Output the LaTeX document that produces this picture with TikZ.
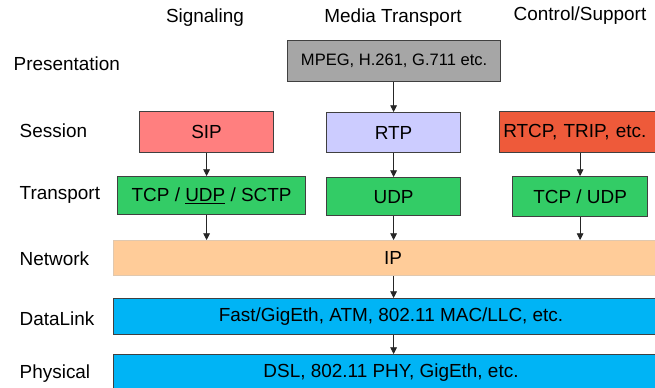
\documentclass[tikz,border=0pt]{standalone}
\usepackage{fontspec}
\setmainfont{Liberation Sans}
\usetikzlibrary{arrows.meta}
\definecolor{presgray}{HTML}{A6A6A6}
\definecolor{sipred}{HTML}{FF7F7F}
\definecolor{rtpblue}{HTML}{CCCCFF}
\definecolor{rtcporange}{HTML}{EE5A3A}
\definecolor{tpgreen}{HTML}{33CC66}
\definecolor{ippeach}{HTML}{FFCC99}
\definecolor{linkblue}{HTML}{00B4F5}
\definecolor{edge}{HTML}{404040}
\tikzset{
  layerbox/.style={draw=edge, line width=0.9pt, inner sep=0pt, anchor=north west},
  rowlabel/.style={anchor=west, font=\fontsize{14.2}{16}\selectfont},
  collabel/.style={font=\fontsize{14.2}{16}\selectfont},
  boxtext/.style={font=\fontsize{14.2}{16}\selectfont},
  flow/.style={draw=black!85, line width=0.6pt, -{Triangle[width=5pt,length=5pt]}},
}
\begin{document}
\begin{tikzpicture}[x=0.75pt, y=-0.75pt]
\useasboundingbox (0,0) rectangle (655,387);
\clip (0,0) rectangle (655,387);

% column headings
\node[collabel] (hsig) at (205,18) {Signaling};
\node[collabel] (hmed) at (393,18) {Media Transport};
\node[collabel] (hctl) at (580,16) {Control/Support};

% row labels
\node[rowlabel] (lpres) at (9,64) {Presentation};
\node[rowlabel] (lsess) at (15,131) {Session};
\node[rowlabel] (ltrans) at (15,195) {Transport};
\node[rowlabel] (lnet) at (15,259) {Network};
\node[rowlabel] (llink) at (15,319) {DataLink};
\node[rowlabel] (lphys) at (15,374) {Physical};

% presentation layer
\node[layerbox, fill=presgray, minimum width=213*0.75pt, minimum height=41*0.75pt,
      font=\fontsize{12.4}{14}\selectfont] (mpeg) at (287,40) {MPEG, H.261, G.711 etc.};

% session layer
\node[layerbox, fill=sipred, minimum width=134*0.75pt, minimum height=41*0.75pt, boxtext] (sip) at (139,111) {SIP};
\node[layerbox, fill=rtpblue, minimum width=134*0.75pt, minimum height=40*0.75pt, boxtext] (rtp) at (326,112) {RTP};
\node[layerbox, fill=rtcporange, minimum width=160*0.75pt, minimum height=41*0.75pt, boxtext, text width=158*0.75pt, align=left, inner xsep=0pt] (rtcp) at (499,111) {\hspace*{2pt}RTCP, TRIP, etc.};

% transport layer
\node[layerbox, fill=tpgreen, minimum width=188*0.75pt, minimum height=38*0.75pt, boxtext] (tsig) at (117,176) {TCP / \underline{UDP} / SCTP};
\node[layerbox, fill=tpgreen, minimum width=134*0.75pt, minimum height=38*0.75pt, boxtext] (tmed) at (326,177) {UDP};
\node[layerbox, fill=tpgreen, minimum width=135*0.75pt, minimum height=40*0.75pt, boxtext] (tctl) at (512,176) {TCP / UDP};

% shared lower layers
\node[layerbox, draw=ippeach!80!black!60, fill=ippeach, minimum width=560*0.75pt, minimum height=35*0.75pt] (ip) at (113,240) {};
\node[boxtext] (iptext) at (393,258) {IP};
\node[layerbox, fill=linkblue, minimum width=560*0.75pt, minimum height=36*0.75pt] (link) at (113,298) {};
\node[boxtext] (linktext) at (391,317) {Fast/GigEth, ATM, 802.11 MAC/LLC, etc.};
\node[layerbox, fill=linkblue, minimum width=560*0.75pt, minimum height=40*0.75pt] (phys) at (113,354) {};
\node[boxtext] (phystext) at (391,373) {DSL, 802.11 PHY, GigEth, etc.};

% flows between layers
\draw[flow] (rtp.north |- mpeg.south) -- (rtp.north);
\draw[flow] (sip.south) -- (sip.south |- tsig.north);
\draw[flow] (rtp.south) -- (tmed.north);
\draw[flow] (rtcp.south -| tctl.north) -- (tctl.north);
\draw[flow] (sip.south |- tsig.south) -- (sip.south |- ip.north);
\draw[flow] (tmed.south) -- (tmed.south |- ip.north);
\draw[flow] (tctl.south) -- (tctl.south |- ip.north);
\draw[flow] (tmed.south |- ip.south) -- (tmed.south |- link.north);
\draw[flow] (tmed.south |- link.south) -- (tmed.south |- phys.north);
\end{tikzpicture}
\end{document}
